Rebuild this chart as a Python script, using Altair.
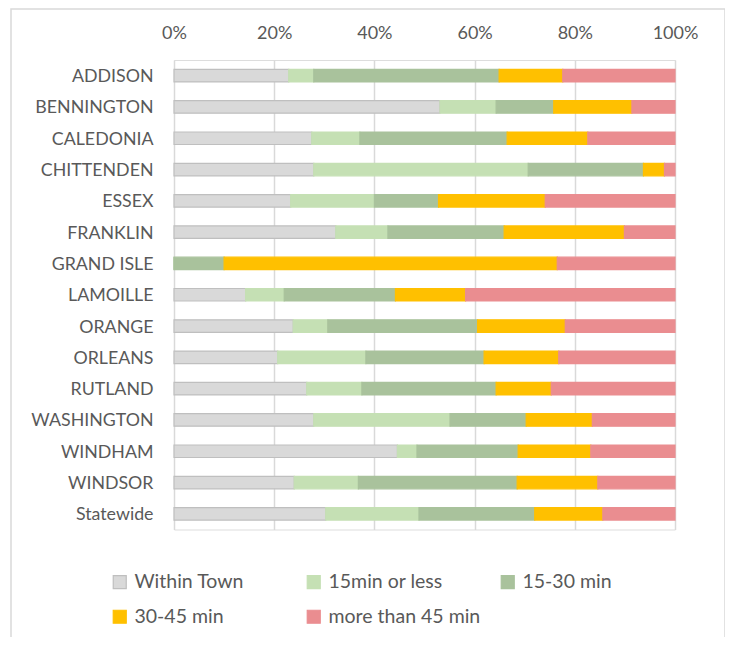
import altair as alt
import pandas as pd

counties = ["ADDISON", "BENNINGTON", "CALEDONIA", "CHITTENDEN", "ESSEX", "FRANKLIN",
            "GRAND ISLE", "LAMOILLE", "ORANGE", "ORLEANS", "RUTLAND", "WASHINGTON",
            "WINDHAM", "WINDSOR", "Statewide"]
categories = ["Within Town", "15min or less", "15-30 min", "30-45 min", "more than 45 min"]

within_town = [22.9, 53.1, 27.5, 27.9, 23.3, 32.3, 0.0, 14.3, 23.8, 20.7, 26.5, 27.9, 44.6, 24.0, 30.3]
min15_or_less = [5.0, 11.2, 9.6, 42.8, 16.7, 10.4, 0.0, 7.7, 6.9, 17.6, 11.0, 27.2, 3.9, 12.8, 18.6]
min15_30 = [37.0, 11.5, 29.4, 23.0, 12.8, 23.2, 10.0, 22.2, 29.9, 23.6, 26.8, 15.2, 20.2, 31.7, 23.1]
min30_45 = [12.7, 15.6, 16.1, 4.2, 21.3, 24.0, 66.5, 14.0, 17.5, 14.9, 11.0, 13.2, 14.5, 16.1, 13.6]
more_45 = [22.4, 8.6, 17.4, 2.1, 25.9, 10.1, 23.5, 41.8, 21.9, 23.2, 24.7, 16.5, 16.8, 15.4, 14.4]

fills = ["#D9D9D9", "#C5E0B4", "#A9C29C", "#FFC000", "#EA8D90"]
strokes = ["#BFBFBF", "#C5E0B4", "#A9C29C", "#FFC000", "#EA8D90"]

series = [within_town, min15_or_less, min15_30, min30_45, more_45]
rows = []
for ci, cat in enumerate(categories):
    for ri, county in enumerate(counties):
        rows.append({"county": county, "cat": cat, "order": ci, "value": series[ci][ri]})
df = pd.DataFrame(rows)

FONT = "Lato"
LABEL = "#595959"

legend_kw = dict(title=None, orient="none", legendX=-64, legendY=512, direction="horizontal",
                 columns=3, gridAlign="all", columnPadding=17, rowPadding=14,
                 symbolType="square", symbolSize=169, symbolStrokeWidth=1.2,
                 labelFontSize=19.5, labelFont=FONT, labelColor=LABEL, labelOffset=5)

bars = alt.Chart(df).mark_bar(strokeWidth=1.2).encode(
    y=alt.Y("county:N", sort=counties, title=None,
            scale=alt.Scale(paddingInner=0.6, paddingOuter=0.3),
            axis=alt.Axis(domain=False, ticks=False, labelPadding=21, labelFontSize=17.8,
                          labelOffset=1.5, labelColor=LABEL, labelFont=FONT, grid=False)),
    x=alt.X("value:Q", stack="normalize", title=None,
            scale=alt.Scale(domain=[0, 1], nice=False),
            axis=alt.Axis(orient="top", format=".0%", values=[0, 0.2, 0.4, 0.6, 0.8, 1.0],
                          domain=False, ticks=False, labelPadding=18, labelFontSize=18,
                          labelFlush=False, labelColor=LABEL, labelFont=FONT, grid=True,
                          gridColor="#D9D9D9", gridWidth=1.5)),
    color=alt.Color("cat:N", sort=categories,
                    scale=alt.Scale(domain=categories, range=fills),
                    legend=alt.Legend(**legend_kw)),
    stroke=alt.Stroke("cat:N", sort=categories,
                      scale=alt.Scale(domain=categories, range=strokes),
                      legend=alt.Legend(**legend_kw)),
    order=alt.Order("order:Q"),
)

frame = alt.Chart(pd.DataFrame({"a": [0]})).mark_rect(
    fill="transparent", stroke="#D9D9D9", strokeWidth=1.5
).encode(
    x=alt.value(-163), x2=alt.value(551), y=alt.value(-51), y2=alt.value(700)
)

chart = alt.layer(frame, bars).properties(
    width=501, height=469.5,
    autosize=alt.AutoSizeParams(type="none"),
    padding={"left": 166, "top": 52, "right": 50, "bottom": 107},
).configure_view(stroke=None).configure(background="white")

chart.save("out.html", embed_options={"renderer": "svg", "actions": False})
